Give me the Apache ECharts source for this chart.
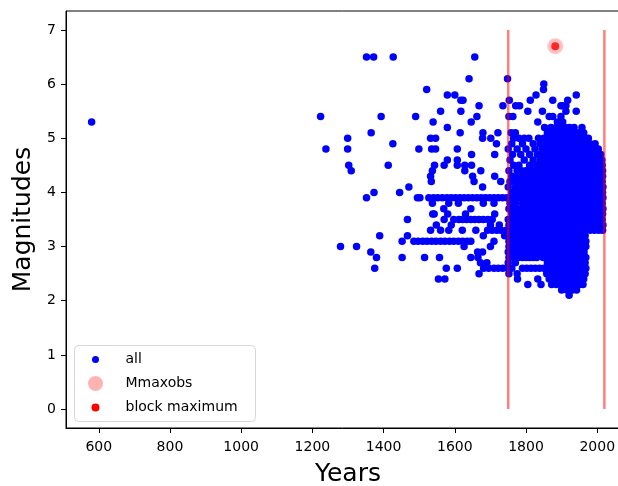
<!DOCTYPE html>
<html>
<head>
<meta charset="utf-8">
<script src="https://cdn.jsdelivr.net/npm/echarts@6/dist/echarts.min.js"></script>
<style>
  html, body { margin: 0; padding: 0; background: #fff; }
  #chart { width: 618px; height: 486px; }
</style>
</head>
<body>
<div id="chart"></div>
<script>
// magnitude levels (catalogue is quantised to 0.1) and the years of the events at each level
const magLevels = [6.5, 6.1, 6.0, 5.9, 5.8, 5.7, 5.6, 5.5, 5.4, 5.3, 5.2, 5.1, 5.0, 4.9, 4.8, 4.7, 4.6,
  4.5, 4.4, 4.3, 4.2, 4.1, 4.0, 3.9, 3.8, 3.7, 3.6, 3.5, 3.4, 3.3, 3.2, 3.1, 3.0, 2.9, 2.8, 2.7,
  2.6, 2.5, 2.4, 2.3, 2.2, 2.1];
const yearsByMag = [
  [1352, 1372, 1427, 1656],
  [1640, 1748],
  [1850],
  [1521, 1849],
  [1579, 1600, 1828, 1941],
  [1617, 1623, 1753, 1812, 1875, 1917],
  [1668, 1735, 1771, 1782, 1898, 1903, 1912],
  [1560, 1617, 1805, 1846, 1912, 1941],
  [1223, 1393, 1490, 1662, 1752, 1763, 1865, 1875, 1898],
  [580, 1539, 1646, 1833, 1888, 1903],
  [1579, 1852, 1870, 1885, 1898, 1910, 1922, 1935, 1957],
  [1365, 1615, 1679, 1721, 1758, 1770, 1860, 1872, 1885, 1898, 1910, 1922, 1935, 1948, 1962],
  [1299, 1532, 1546, 1678, 1701, 1765, 1780, 1795, 1808, 1835, 1850, 1862, 1875, 1888, 1900, 1912,
    1925, 1937, 1950, 1962, 1975],
  [1426, 1717, 1760, 1790, 1820, 1840, 1855, 1868, 1880, 1892, 1905, 1918, 1930, 1942, 1955, 1968,
    1980, 1994],
  [1238, 1299, 1499, 1535, 1546, 1607, 1750, 1775, 1800, 1825, 1845, 1858, 1870, 1882, 1895, 1908,
    1920, 1932, 1945, 1958, 1970, 1982, 1995, 2003],
  [1647, 1712, 1762, 1785, 1810, 1832, 1848, 1860, 1872, 1885, 1897, 1910, 1922, 1935, 1947, 1960,
    1972, 1985, 1997, 2010],
  [1579, 1607, 1755, 1795, 1820, 1840, 1855, 1867, 1880, 1892, 1904, 1916, 1928, 1940, 1952, 1964,
    1976, 1988, 2000, 2013],
  [1302, 1413, 1543, 1570, 1607, 1628, 1647, 1765, 1780, 1810, 1830, 1845, 1858, 1870, 1882, 1894,
    1906, 1918, 1930, 1942, 1954, 1966, 1978, 1990, 2002, 2014],
  [1309, 1537, 1628, 1673, 1752, 1775, 1788, 1800, 1812, 1822, 1840, 1852, 1864, 1876, 1888, 1900,
    1912, 1924, 1936, 1948, 1960, 1972, 1984, 1996, 2008, 2015],
  [1532, 1650, 1712, 1760, 1775, 1790, 1802, 1815, 1825, 1835, 1850, 1862, 1874, 1886, 1898, 1910,
    1922, 1934, 1946, 1958, 1970, 1982, 1994, 2006, 2015],
  [1534, 1654, 1729, 1755, 1768, 1780, 1792, 1805, 1817, 1828, 1845, 1858, 1870, 1882, 1894, 1906,
    1918, 1930, 1942, 1954, 1966, 1978, 1990, 2002, 2014],
  [1471, 1678, 1750, 1770, 1783, 1795, 1806, 1818, 1828, 1838, 1852, 1864, 1876, 1888, 1900, 1912,
    1924, 1936, 1948, 1960, 1972, 1984, 1996, 2008, 2016],
  [1373, 1445, 1760, 1772, 1785, 1797, 1808, 1820, 1830, 1848, 1860, 1872, 1884, 1896, 1908, 1920,
    1932, 1944, 1956, 1968, 1980, 1992, 2004, 2015],
  [1352, 1495, 1502, 1527, 1540, 1552, 1565, 1578, 1590, 1602, 1614, 1626, 1638, 1650, 1662, 1674,
    1686, 1698, 1710, 1722, 1734, 1746, 1758, 1770, 1782, 1794, 1806, 1818, 1830, 1842, 1854, 1866,
    1878, 1890, 1902, 1914, 1926, 1938, 1950, 1962, 1974, 1986, 1998, 2010, 2016],
  [1537, 1583, 1610, 1680, 1710, 1755, 1770, 1790, 1805, 1820, 1832, 1845, 1858, 1870, 1882, 1894,
    1906, 1918, 1930, 1942, 1954, 1966, 1978, 1990, 2002, 2014],
  [1569, 1645, 1752, 1763, 1775, 1788, 1800, 1812, 1825, 1840, 1852, 1864, 1876, 1888, 1900, 1912,
    1924, 1936, 1948, 1960, 1972, 1984, 1996, 2008, 2016],
  [1538, 1542, 1580, 1630, 1712, 1760, 1772, 1785, 1797, 1810, 1822, 1835, 1850, 1862, 1874, 1886,
    1898, 1910, 1922, 1934, 1946, 1958, 1970, 1982, 1994, 2006, 2015],
  [1467, 1570, 1597, 1611, 1622, 1633, 1645, 1656, 1668, 1680, 1693, 1705, 1750, 1765, 1778, 1790,
    1805, 1820, 1832, 1845, 1858, 1870, 1882, 1894, 1906, 1918, 1930, 1942, 1954, 1966, 1978, 1990,
    2002, 2014],
  [1548, 1590, 1700, 1725, 1752, 1763, 1775, 1788, 1800, 1815, 1828, 1840, 1852, 1864, 1876, 1888,
    1900, 1912, 1924, 1936, 1948, 1960, 1972, 1984, 1996, 2008, 2016],
  [1532, 1560, 1583, 1621, 1659, 1692, 1705, 1718, 1730, 1745, 1760, 1775, 1790, 1805, 1820, 1835,
    1848, 1860, 1872, 1884, 1896, 1908, 1920, 1932, 1944, 1956, 1968, 1980, 1992, 2004, 2015],
  [1389, 1467, 1680, 1740, 1755, 1768, 1780, 1793, 1805, 1818, 1830, 1845, 1858, 1870, 1882, 1894,
    1906, 1918, 1930, 1942, 1954, 1966],
  [1452, 1485, 1497, 1510, 1522, 1535, 1547, 1560, 1572, 1585, 1597, 1610, 1622, 1635, 1645, 1710,
    1752, 1770, 1782, 1795, 1808, 1820, 1830, 1840, 1852, 1864, 1876, 1888, 1900, 1912, 1924, 1936,
    1948, 1960, 1968],
  [1279, 1324, 1626, 1700, 1752, 1765, 1777, 1790, 1800, 1812, 1824, 1835, 1848, 1860, 1872, 1884,
    1896, 1908, 1920, 1932, 1944, 1956, 1968],
  [1364, 1664, 1678, 1750, 1762, 1775, 1788, 1800, 1812, 1825, 1842, 1855, 1867, 1879, 1891, 1903,
    1915, 1927, 1939, 1951, 1963],
  [1380, 1452, 1515, 1557, 1645, 1665, 1752, 1765, 1778, 1790, 1800, 1810, 1820, 1830, 1848, 1860,
    1872, 1884, 1896, 1908, 1920, 1932, 1944, 1956, 1968],
  [1672, 1690, 1750, 1770, 1860, 1872, 1884, 1896, 1908, 1920, 1932, 1944, 1956, 1966],
  [1375, 1576, 1607, 1681, 1695, 1710, 1722, 1735, 1749, 1760, 1790, 1802, 1814, 1826, 1838, 1850,
    1862, 1874, 1886, 1898, 1910, 1922, 1934, 1946, 1958, 1968],
  [1668, 1752, 1775, 1858, 1870, 1882, 1894, 1906, 1918, 1930, 1942, 1954, 1966],
  [1554, 1572, 1776, 1833, 1865, 1878, 1890, 1902, 1914, 1926, 1938, 1950, 1962],
  [1805, 1842, 1872, 1885, 1898, 1910, 1922, 1934, 1949, 1960],
  [1900, 1915, 1930, 1942],
  [1921]
];

// largest observed event (Mmaxobs) and the block maximum (same event)
const maxObsYear = [1882];
const maxObsMag = [6.7];

// block limits drawn as vertical lines
const blockYears = [1750, 2020];
const blockMagRange = [0, 7];

// tick labels
const xTicks = [600, 800, 1000, 1200, 1400, 1600, 1800, 2000];
const yTicks = [0, 1, 2, 3, 4, 5, 6, 7];

const FONT = 'DejaVu Sans';

const allPoints = [];
magLevels.forEach(function (m, i) {
  yearsByMag[i].forEach(function (yr) { allPoints.push([yr, m]); });
});

const blockLines = blockYears.map(function (yr) {
  return {
    type: 'line',
    silent: true,
    symbol: 'none',
    lineStyle: { color: 'rgba(255, 0, 0, 0.5)', width: 2.5 },
    data: blockMagRange.map(function (m) { return [yr, m]; }),
    z: 3
  };
});

const option = {
  animation: false,
  backgroundColor: '#fff',
  textStyle: { fontFamily: FONT },
  grid: {
    left: 66,
    top: 11,
    width: 564,
    height: 417,
    containLabel: false,
    outerBoundsMode: 'none',
    show: true,
    borderColor: '#000',
    borderWidth: 1,
    backgroundColor: 'transparent'
  },
  xAxis: {
    type: 'value',
    min: 508,
    max: 2092,
    name: 'Years',
    nameLocation: 'middle',
    nameGap: 34,
    nameTextStyle: { fontSize: 25, color: '#000', fontFamily: FONT },
    axisLine: { show: true, onZero: false, lineStyle: { color: '#000', width: 1 } },
    axisTick: { show: true, length: 5, inside: false, customValues: xTicks, lineStyle: { color: '#000' } },
    axisLabel: {
      customValues: xTicks, fontSize: 14, color: '#000', margin: 12, fontFamily: FONT,
      formatter: function (v) { return String(v); }
    },
    splitLine: { show: false }
  },
  yAxis: {
    type: 'value',
    min: -0.35,
    max: 7.35,
    name: 'Magnitudes',
    nameLocation: 'middle',
    nameGap: 30,
    nameRotate: 90,
    nameTextStyle: { fontSize: 25, color: '#000', fontFamily: FONT },
    axisLine: { show: true, onZero: false, lineStyle: { color: '#000', width: 1 } },
    axisTick: { show: true, length: 5, inside: false, customValues: yTicks, lineStyle: { color: '#000' } },
    axisLabel: {
      customValues: yTicks, fontSize: 14, color: '#000', margin: 10, fontFamily: FONT,
      formatter: function (v) { return String(v); }
    },
    splitLine: { show: false }
  },
  series: [
    {
      name: 'all',
      type: 'scatter',
      symbol: 'circle',
      symbolSize: 7.5,
      itemStyle: { color: '#0000ff', opacity: 1 },
      data: allPoints,
      z: 2
    }
  ].concat(blockLines).concat([
    {
      name: 'Mmaxobs',
      type: 'scatter',
      symbolSize: 16,
      itemStyle: { color: 'rgba(255, 0, 0, 0.3)' },
      data: maxObsYear.map(function (yr, i) { return [yr, maxObsMag[i]]; }),
      z: 4
    },
    {
      name: 'block maximum',
      type: 'scatter',
      symbolSize: 8,
      itemStyle: { color: '#ff0000' },
      data: maxObsYear.map(function (yr, i) { return [yr, maxObsMag[i]]; }),
      z: 5
    }
  ]),
  // matplotlib-style legend box in the lower left
  graphic: [
    {
      type: 'group',
      left: 74,
      top: 345,
      z: 100,
      children: [
        {
          type: 'rect',
          shape: { x: 0, y: 0, width: 181, height: 76, r: 4 },
          style: { fill: 'rgba(255,255,255,0.8)', stroke: '#d6d6d6', lineWidth: 1 }
        },
        { type: 'circle', shape: { cx: 21, cy: 14, r: 3.5 }, style: { fill: '#0000ff' } },
        { type: 'circle', shape: { cx: 21, cy: 38, r: 7.5 }, style: { fill: 'rgba(255, 0, 0, 0.3)' } },
        { type: 'circle', shape: { cx: 21, cy: 62, r: 4 }, style: { fill: '#ff0000' } },
        { type: 'text', x: 51, y: 14, style: { text: 'all', font: '14px "DejaVu Sans"', fill: '#000', verticalAlign: 'middle' } },
        { type: 'text', x: 51, y: 38, style: { text: 'Mmaxobs', font: '14px "DejaVu Sans"', fill: '#000', verticalAlign: 'middle' } },
        { type: 'text', x: 51, y: 62, style: { text: 'block maximum', font: '14px "DejaVu Sans"', fill: '#000', verticalAlign: 'middle' } }
      ]
    }
  ]
};

const chart = echarts.init(document.getElementById('chart'), null, { renderer: 'canvas' });
chart.setOption(option);
</script>
</body>
</html>
